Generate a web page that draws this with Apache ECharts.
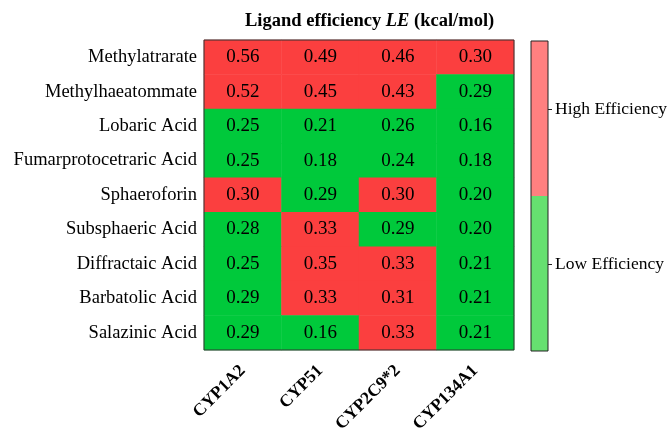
<!DOCTYPE html>
<html>
<head>
<meta charset="utf-8">
<script src="https://cdn.jsdelivr.net/npm/echarts@6/dist/echarts.min.js"></script>
<style>html,body{margin:0;padding:0;background:#fff}#c{width:671px;height:429px}</style>
</head>
<body>
<div id="c"></div>
<script>
const enzymes = ['CYP1A2', 'CYP51', 'CYP2C9*2', 'CYP134A1'];
const compounds = ['Methylatrarate', 'Methylhaeatommate', 'Lobaric Acid', 'Fumarprotocetraric Acid', 'Sphaeroforin', 'Subsphaeric Acid', 'Diffractaic Acid', 'Barbatolic Acid', 'Salazinic Acid'];
const leValues = [
  [0.56, 0.49, 0.46, 0.30],
  [0.52, 0.45, 0.43, 0.29],
  [0.25, 0.21, 0.26, 0.16],
  [0.25, 0.18, 0.24, 0.18],
  [0.30, 0.29, 0.30, 0.20],
  [0.28, 0.33, 0.29, 0.20],
  [0.25, 0.35, 0.33, 0.21],
  [0.29, 0.33, 0.31, 0.21],
  [0.29, 0.16, 0.33, 0.21]
];
const threshold = 0.30;
const colorbarLabels = ['Low Efficiency', 'High Efficiency'];
const colorbarTicks = [0.28, 0.78];
const colorbarSegments = [0.5, 0.5];

const RED = '#fb3f3f', GREEN = '#00c93b', LRED = '#ff8080', LGREEN = '#66e070';
const FONT = '"Liberation Serif", "Times New Roman", serif';

const heatData = [];
compounds.forEach((c, yi) => enzymes.forEach((e, xi) => heatData.push([xi, yi, leValues[yi][xi]])));

const chart = echarts.init(document.getElementById('c'));
chart.setOption({
  animation: false,
  backgroundColor: '#fff',
  textStyle: { fontFamily: FONT },
  title: {
    text: '{b|Ligand efficiency }{i|LE}{b| (kcal/mol)}',
    left: 240, top: 7,
    textStyle: {
      rich: {
        b: { fontFamily: FONT, fontWeight: 'bold', fontSize: 18.5, color: '#000' },
        i: { fontFamily: FONT, fontWeight: 'bold', fontStyle: 'italic', fontSize: 18.5, color: '#000' }
      }
    }
  },
  grid: [
    { left: 204, top: 40, width: 310, height: 310, show: true, borderColor: '#333', borderWidth: 1, backgroundColor: 'transparent', z: 10, containLabel: false, outerBoundsMode: 'none' },
    { left: 531, top: 41, width: 17, height: 310, show: true, borderColor: '#222', borderWidth: 1, backgroundColor: 'transparent', z: 10, containLabel: false, outerBoundsMode: 'none' }
  ],
  xAxis: [
    { type: 'category', gridIndex: 0, data: enzymes, axisLine: { show: false }, axisTick: { show: false },
      axisLabel: { rotate: 45, fontFamily: FONT, fontWeight: 'bold', fontSize: 17.5, color: '#000', margin: 18 }, splitLine: { show: false } },
    { type: 'category', gridIndex: 1, data: [''], show: false }
  ],
  yAxis: [
    { type: 'category', gridIndex: 0, data: compounds, inverse: true, axisLine: { show: false }, axisTick: { show: false },
      axisLabel: { fontFamily: FONT, fontSize: 18.5, color: '#000', margin: 7 }, splitLine: { show: false } },
    { type: 'value', gridIndex: 1, min: 0, max: 1, position: 'right', axisLine: { show: false }, splitLine: { show: false },
      axisTick: { show: true, customValues: colorbarTicks, length: 4, lineStyle: { color: '#222' } },
      axisLabel: { show: true, customValues: colorbarTicks, margin: 7, fontFamily: FONT, fontSize: 17.5, color: '#000',
        formatter: v => colorbarLabels[colorbarTicks.findIndex(t => Math.abs(t - v) < 1e-6)] || '' } },
    { type: 'value', gridIndex: 1, min: 0, max: 1, position: 'left', axisLine: { show: false }, splitLine: { show: false },
      axisTick: { show: true, inside: true, customValues: colorbarTicks, length: 3, lineStyle: { color: '#222' } },
      axisLabel: { show: false } }
  ],
  visualMap: {
    type: 'piecewise', show: false, seriesIndex: 0, dimension: 2,
    pieces: [{ gte: threshold, color: RED }, { lt: threshold, color: GREEN }]
  },
  series: [
    {
      type: 'heatmap', xAxisIndex: 0, yAxisIndex: 0, data: heatData,
      label: { show: true, fontFamily: FONT, fontSize: 19, color: '#000', formatter: p => p.value[2].toFixed(2) },
      itemStyle: { borderWidth: 0 }
    },
    { type: 'bar', xAxisIndex: 1, yAxisIndex: 1, stack: 'cb', data: [colorbarSegments[0]], barWidth: '100%', itemStyle: { color: LGREEN }, silent: true },
    { type: 'bar', xAxisIndex: 1, yAxisIndex: 1, stack: 'cb', data: [colorbarSegments[1]], barWidth: '100%', itemStyle: { color: LRED }, silent: true }
  ]
});
</script>
</body>
</html>
